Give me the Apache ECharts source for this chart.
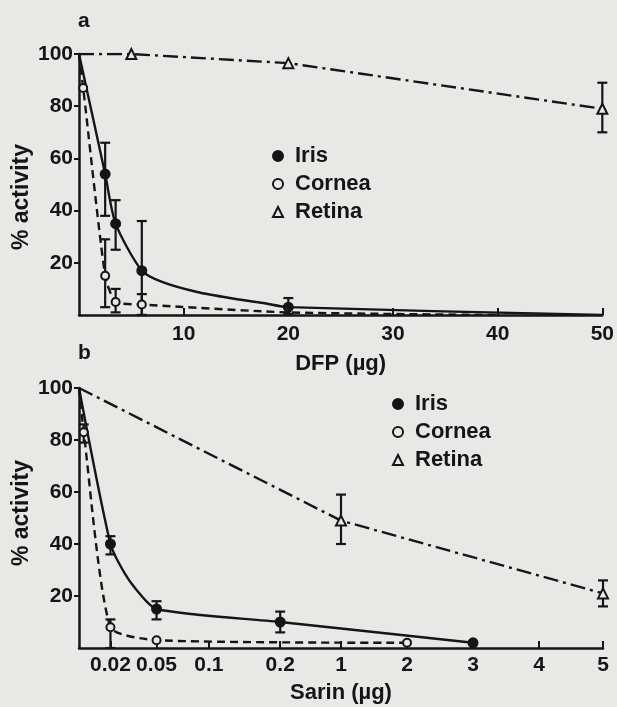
<meta charset="utf-8">
<script src="https://cdn.jsdelivr.net/npm/echarts/dist/echarts.min.js"></script>
<div id="main" style="position:absolute;left:0;top:0;width:617px;height:707px"></div>
<script>
// every curve starts at the untreated value, 100 % activity
const start = [0, 100]

// a: DFP dose (µg) -> % activity, error rows are [dose, low, high]
const dfpIris = [[2.5, 54], [3.5, 35], [6, 17], [20, 3]]
const dfpIrisTrace = [[8, 12.6], [11.3, 8.8], [14.4, 6.5], [17.6, 4.6], [50, 0]]
const dfpIrisErr = [[2.5, 38, 66], [3.5, 25, 44], [6, 0, 36], [20, 0.5, 6.5]]
const dfpCornea = [[0.4, 87], [2.5, 15], [3.5, 5], [6, 4]]
const dfpCorneaTrace = [[20, 1], [40, 0]]
const dfpCorneaErr = [[2.5, 3, 29], [3.5, 1, 10], [6, 0, 8]]
const dfpRetina = [[5, 100], [20, 96.5], [50, 79]]
const dfpRetinaErr = [[50, 70, 89]]

// b: Sarin dose (µg) -> % activity
const sarinIris = [[0.02, 40], [0.05, 15], [0.2, 10], [3, 2]]
const sarinIrisTrace = [[0.028, 30], [0.037, 22.3]]
const sarinIrisErr = [[0.02, 36, 43], [0.05, 11, 18], [0.2, 6, 14]]
const sarinCornea = [[0.003, 83], [0.02, 8], [0.05, 3], [2, 2]]
const sarinCorneaErr = [[0.003, 79, 86], [0.02, 0, 11]]
const sarinRetina = [[1, 49], [5, 21]]
const sarinRetinaErr = [[1, 40, 59], [5, 16, 26]]

// tick labels
const dfpTicks = [10, 20, 30, 40, 50]
const activityTicks = [20, 40, 60, 80, 100]
const sarinTicks = [0.02, 0.05, 0.1, 0.2, 1, 2, 3, 4, 5]
// the sarin axis is not linear: where each tick sits on a 0..5 axis
const sarinScale = [0.3, 0.74, 1.24, 1.92, 2.5, 3.13, 3.76, 4.39, 5]

const ink = '#151515'
const bg = '#e8e8e6'
const font = 'Liberation Sans'

// dose -> place on the broken sarin axis (piecewise linear between ticks)
const sarinPos = d => {
  const xs = [0, ...sarinTicks], ps = [0, ...sarinScale]
  for (let i = 1; i < xs.length; i++) {
    if (d <= xs[i]) return ps[i - 1] + (d - xs[i - 1]) / (xs[i] - xs[i - 1]) * (ps[i] - ps[i - 1])
  }
  return ps[ps.length - 1]
}
const toSarin = rows => rows.map(r => [sarinPos(r[0]), ...r.slice(1)])

const myChart = echarts.init(main)

const styles = {
  Iris: { line: 'solid', symbol: 'circle', size: 9, fill: ink, smooth: 0.25 },
  Cornea: { line: [8, 5], symbol: 'circle', size: 8, fill: bg, smooth: 0.2 },
  Retina: { line: [15, 5, 3, 5], symbol: 'triangle', size: 10, fill: bg, smooth: false },
}

const curve = (name, pts, trace, i) => {
  const s = styles[name]
  const data = [
    { value: start, symbol: 'none' },
    ...pts.map(p => ({ value: p })),
    ...trace.map(p => ({ value: p, symbol: 'none' })),
  ].sort((a, b) => a.value[0] - b.value[0])
  return {
    type: 'line', name, xAxisIndex: i, yAxisIndex: i, z: 3,
    smooth: s.smooth,
    symbol: s.symbol, symbolSize: s.size, showAllSymbol: true,
    lineStyle: { color: ink, width: 2.4, type: s.line },
    itemStyle: { color: s.fill, borderColor: ink, borderWidth: 2 },
    data,
  }
}

const errBar = (data, i) => ({
  type: 'custom', xAxisIndex: i, yAxisIndex: i, silent: true, z: 2,
  data,
  renderItem: (params, api) => {
    const lo = api.coord([api.value(0), api.value(1)])
    const hi = api.coord([api.value(0), api.value(2)])
    const w = 5
    const style = { stroke: ink, lineWidth: 2.2 }
    return {
      type: 'group', children: [
        { type: 'line', shape: { x1: lo[0], y1: lo[1], x2: hi[0], y2: hi[1] }, style },
        { type: 'line', shape: { x1: lo[0] - w, y1: lo[1], x2: lo[0] + w, y2: lo[1] }, style },
        { type: 'line', shape: { x1: hi[0] - w, y1: hi[1], x2: hi[0] + w, y2: hi[1] }, style },
      ]
    }
  }
})

const label = { color: ink, fontFamily: font, fontWeight: 'bold', fontSize: 21 }
const axisLine = { lineStyle: { color: ink, width: 2.5 } }

const yAxis = grid => ({
  type: 'value', gridIndex: grid, min: 0, max: 100, interval: 20,
  axisLine: { show: true, ...axisLine },
  axisTick: { show: true, length: 5, lineStyle: { color: ink, width: 2 }, customValues: activityTicks },
  axisLabel: { ...label, margin: 6, customValues: activityTicks },
  splitLine: { show: false },
})

const legendData = Object.keys(styles).map(name => ({
  name, icon: styles[name].symbol,
  itemStyle: { color: styles[name].fill, borderColor: ink, borderWidth: 2 },
}))
const legend = (left, top) => ({
  left, top, orient: 'vertical', selectedMode: false,
  itemWidth: 10, itemHeight: 10, itemGap: 6,
  textStyle: { ...label, fontSize: 22, lineHeight: 22, padding: [0, 0, 0, 7] },
  data: legendData,
})

myChart.setOption({
  backgroundColor: bg,
  animation: false,
  grid: [
    { left: 79, top: 54, width: 524, height: 261 },
    { left: 79, top: 388, width: 524, height: 260 },
  ],
  xAxis: [
    {
      type: 'value', gridIndex: 0, min: 0, max: 50, interval: 10,
      axisLine: { show: true, onZero: false, ...axisLine },
      axisTick: { show: true, inside: true, length: 7, lineStyle: { color: ink, width: 2 }, customValues: dfpTicks },
      axisLabel: { ...label, margin: 9, customValues: dfpTicks },
      splitLine: { show: false },
      name: 'DFP (µg)', nameLocation: 'middle', nameGap: 38,
      nameTextStyle: { ...label, fontSize: 22 },
    },
    {
      type: 'value', gridIndex: 1, min: 0, max: 5,
      axisLine: { show: true, onZero: false, ...axisLine },
      axisTick: { show: true, inside: true, length: 7, lineStyle: { color: ink, width: 2 }, customValues: sarinScale },
      axisLabel: {
        ...label, margin: 7, customValues: sarinScale,
        formatter: v => String(sarinTicks[sarinScale.indexOf(v)]),
      },
      splitLine: { show: false },
      name: 'Sarin (µg)', nameLocation: 'middle', nameGap: 34,
      nameTextStyle: { ...label, fontSize: 22 },
    },
  ],
  yAxis: [yAxis(0), yAxis(1)],
  legend: [legend(267, 140), legend(387, 388)],
  graphic: [
    { type: 'text', left: 78, top: 11, style: { text: 'a', font: `bold 21px "${font}"`, fill: ink } },
    { type: 'text', left: 78, top: 343, style: { text: 'b', font: `bold 21px "${font}"`, fill: ink } },
    { type: 'text', x: 22, y: 197, rotation: Math.PI / 2, style: { text: '% activity', font: `bold 23px "${font}"`, fill: ink, align: 'center', verticalAlign: 'middle' } },
    { type: 'text', x: 22, y: 513, rotation: Math.PI / 2, style: { text: '% activity', font: `bold 23px "${font}"`, fill: ink, align: 'center', verticalAlign: 'middle' } },
  ],
  series: [
    errBar(dfpIrisErr, 0),
    errBar(dfpCorneaErr, 0),
    errBar(dfpRetinaErr, 0),
    curve('Iris', dfpIris, dfpIrisTrace, 0),
    curve('Cornea', dfpCornea, dfpCorneaTrace, 0),
    curve('Retina', dfpRetina, [], 0),
    errBar(toSarin(sarinIrisErr), 1),
    errBar(toSarin(sarinCorneaErr), 1),
    errBar(toSarin(sarinRetinaErr), 1),
    curve('Iris', toSarin(sarinIris), toSarin(sarinIrisTrace), 1),
    curve('Cornea', toSarin(sarinCornea), [], 1),
    curve('Retina', toSarin(sarinRetina), [], 1),
  ],
})
</script>
